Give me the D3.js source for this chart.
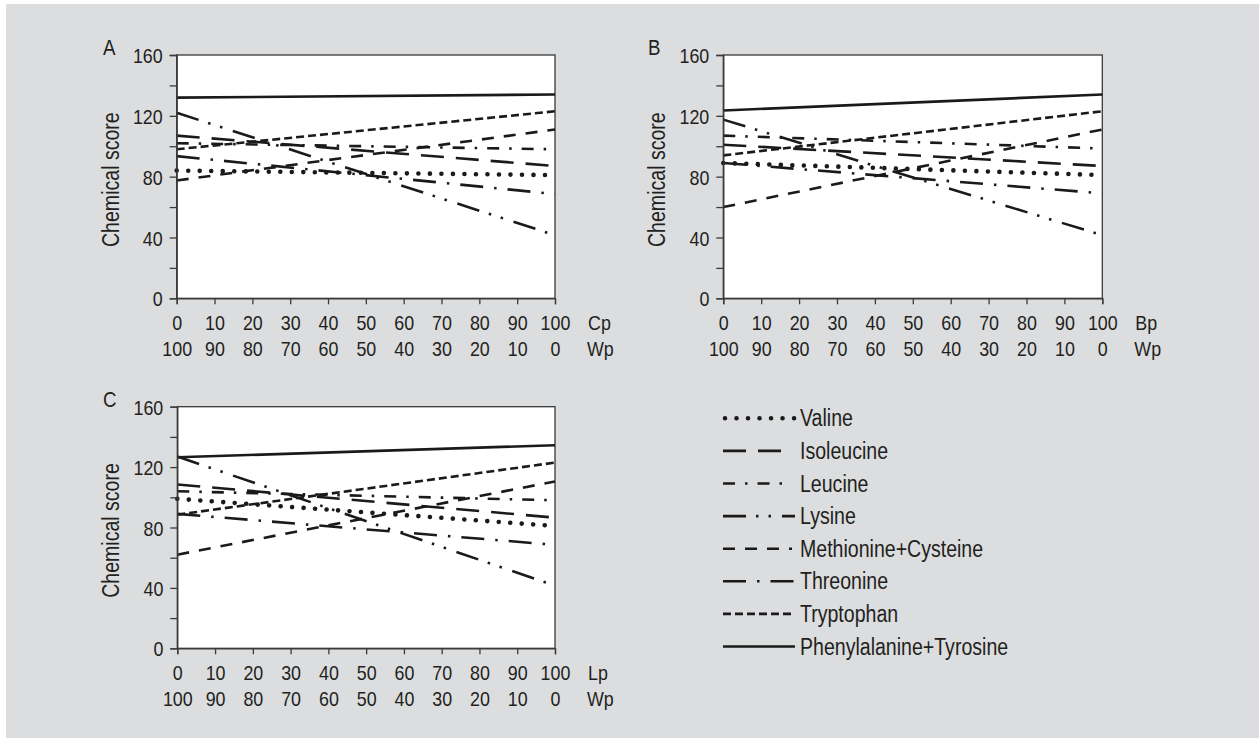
<!DOCTYPE html>
<html>
<head>
<meta charset="utf-8">
<script src="https://cdn.jsdelivr.net/npm/d3@7"></script>
<style>
  html, body { margin: 0; padding: 0; background: #ffffff; }
  svg { display: block; }
  text { font-family: "Liberation Sans", Arial, sans-serif; fill: #231f20; }
</style>
</head>
<body>
<svg id="chart" width="1259" height="738"></svg>
<script>
// ---------------- DATA ----------------
const mixPoints = [0, 100];                // % of plant protein in the blend (Cp / Bp / Lp)
const panelLabels = ["A", "B", "C"];
const proteinLabels = ["Cp", "Bp", "Lp"];
const blendLabel = "Wp";
const xTicksTop = [0, 10, 20, 30, 40, 50, 60, 70, 80, 90, 100];
const xTicksBottom = [100, 90, 80, 70, 60, 50, 40, 30, 20, 10, 0];
const yTicks = [0, 20, 40, 60, 80, 100, 120, 140, 160];
const yLabelTicks = [0, 40, 80, 120, 160];
const yTitle = "Chemical score";

const seriesNames = ["Valine", "Isoleucine", "Leucine", "Lysine",
  "Methionine+Cysteine", "Threonine", "Tryptophan", "Phenylalanine+Tyrosine"];

// values per panel [A, B, C], each [at 0, at 100]
const valine     = [[84, 81],    [89, 81],    [99, 81]];
const isoleucine = [[107, 87],   [101, 87],   [108.5, 86.5]];
const leucine    = [[102, 98],   [107, 98.5], [104, 98]];
const lysine     = [[122, 41.5], [117.5, 41.5], [127, 41.5]];
const metCys     = [[77.5, 111], [60, 111],   [62, 110.5]];
const threonine  = [[93.5, 68.5], [89, 69],   [89, 68.5]];
const tryptophan = [[98, 123],   [94, 123],   [88.5, 123]];
const pheTyr     = [[132, 134],  [123.5, 134], [126.5, 134.5]];

const seriesValues = [valine, isoleucine, leucine, lysine, metCys, threonine, tryptophan, pheTyr];

// ---------------- STYLES ----------------
const lineStyles = [
  { dash: "0.01,11.5", width: 4.6, cap: "round", legendEnd: 795 },
  { dash: "23,12", width: 2.6, cap: "butt", legendEnd: 784 },
  { dash: "12,10,2.5,10", width: 2.6, cap: "butt", legendEnd: 784 },
  { dash: "23,10,2.5,10,2.5,11", width: 2.6, cap: "butt", legendEnd: 795 },
  { dash: "12,10", width: 2.6, cap: "butt", legendEnd: 792 },
  { dash: "23,11,2.5,11", width: 2.6, cap: "butt", legendEnd: 795 },
  { dash: "8,4", width: 2.6, cap: "butt", legendEnd: 795 },
  { dash: null, width: 2.6, cap: "butt", legendEnd: 795 }
];

const panels = [
  { left: 176.7, right: 555, top: 55, bottom: 298.3, labelX: 103 },
  { left: 723.3, right: 1102.3, top: 55, bottom: 298.3, labelX: 648 },
  { left: 177.3, right: 555, top: 406.7, bottom: 648.3, labelX: 103 }
];

const SQUEEZE = 0.85;
function condense(sel) {
  sel.each(function () {
    const len = this.getComputedTextLength();
    if (len > 0) {
      d3.select(this).attr("textLength", len * SQUEEZE).attr("lengthAdjust", "spacingAndGlyphs");
    }
  });
}

const svg = d3.select("#chart");
svg.append("rect").attr("x", 6).attr("y", 4).attr("width", 1253).attr("height", 734).attr("fill", "#dcdddf");

panels.forEach((p, pi) => {
  const x = d3.scaleLinear().domain([0, 100]).range([p.left, p.right]);
  const y = d3.scaleLinear().domain([0, 160]).range([p.bottom, p.top]);
  const g = svg.append("g");

  g.append("rect").attr("x", p.left).attr("y", p.top)
    .attr("width", p.right - p.left).attr("height", p.bottom - p.top)
    .attr("fill", "#ffffff").attr("stroke", "#3a3a3a").attr("stroke-width", 1.3);

  // lines
  const line = d3.line().x((d, i) => x(mixPoints[i])).y(d => y(d));
  seriesValues.forEach((s, si) => {
    const st = lineStyles[si];
    g.append("path").datum(s[pi]).attr("d", line)
      .attr("fill", "none").attr("stroke", "#1a1a1a")
      .attr("stroke-width", st.width)
      .attr("stroke-linecap", st.cap)
      .attr("stroke-dasharray", st.dash);
  });

  // y axis
  const yAxis = d3.axisLeft(y).tickValues(yTicks).tickSize(7).tickPadding(7)
    .tickFormat(d => yLabelTicks.includes(d) ? d : "");
  const ya = g.append("g").attr("transform", `translate(${p.left},0)`).call(yAxis);
  ya.select(".domain").attr("stroke", "#3a3a3a").attr("stroke-width", 1.3);
  ya.selectAll(".tick line").attr("stroke", "#3a3a3a").attr("stroke-width", 1.3);
  ya.selectAll(".tick text").attr("font-size", 21).attr("font-family", "Liberation Sans")
    .attr("fill", "#231f20").attr("dy", "0.36em").call(condense);

  // x axis
  const xAxis = d3.axisBottom(x).tickValues(xTicksTop).tickSize(6).tickPadding(0)
    .tickFormat(d => d);
  const xa = g.append("g").attr("transform", `translate(0,${p.bottom})`).call(xAxis);
  xa.select(".domain").attr("stroke", "#3a3a3a").attr("stroke-width", 1.3);
  xa.selectAll(".tick line").attr("stroke", "#3a3a3a").attr("stroke-width", 1.3);
  xa.selectAll(".tick text").attr("font-size", 21).attr("font-family", "Liberation Sans")
    .attr("fill", "#231f20").attr("y", 32).attr("dy", 0).call(condense);
  xa.selectAll(".tick").append("text")
    .attr("y", 58).attr("fill", "#231f20").attr("font-size", 21)
    .attr("font-family", "Liberation Sans")
    .text((d, i) => xTicksBottom[i]).call(condense);

  // protein labels
  g.append("text").attr("x", p.right + 33).attr("y", p.bottom + 32)
    .attr("font-size", 21).text(proteinLabels[pi]).call(condense);
  g.append("text").attr("x", p.right + 32).attr("y", p.bottom + 58)
    .attr("font-size", 21).text(blendLabel).call(condense);

  // y title
  const cy = (p.top + p.bottom) / 2 + 3;
  g.append("text").attr("transform", `translate(${p.left - 58},${cy}) rotate(-90)`)
    .attr("text-anchor", "middle").attr("font-size", 23).text(yTitle).call(condense);

  // panel label
  g.append("text").attr("x", p.labelX).attr("y", p.top).attr("font-size", 22)
    .text(panelLabels[pi]).call(condense);
});

// legend
const lg = svg.append("g");
const lx0 = 723, ltx = 800, ly0 = 418.3, lstep = 32.6;
seriesNames.forEach((name, i) => {
  const st = lineStyles[i];
  const yy = ly0 + i * lstep;
  lg.append("line").attr("x1", lx0 + (i === 0 ? 2 : 0)).attr("x2", st.legendEnd).attr("y1", yy).attr("y2", yy)
    .attr("stroke", "#1a1a1a").attr("stroke-width", st.width)
    .attr("stroke-linecap", st.cap).attr("stroke-dasharray", st.dash);
  lg.append("text").attr("x", ltx).attr("y", yy + 8).attr("font-size", 23).text(name).call(condense);
});
</script>
</body>
</html>
